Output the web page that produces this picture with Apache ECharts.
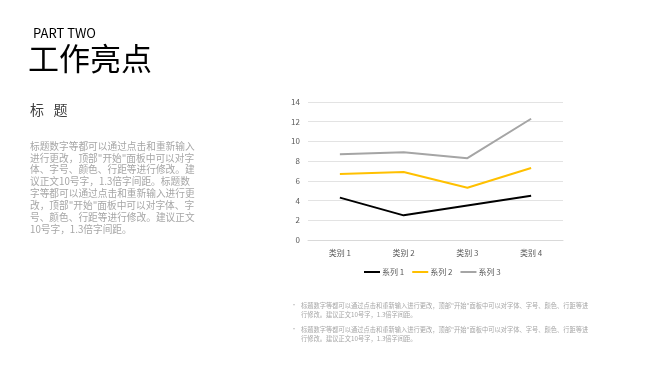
<!DOCTYPE html>
<html>
<head>
<meta charset="utf-8">
<script src="https://cdn.jsdelivr.net/npm/echarts@6/dist/echarts.min.js"></script>
<style>
html,body{margin:0;padding:0;background:#fff;}
#c{width:668px;height:376px;}
</style>
</head>
<body>
<div id="c"></div>
<script>
var categories = ['类别 1', '类别 2', '类别 3', '类别 4'];
var seriesNames = ['系列 1', '系列 2', '系列 3'];
var series1 = [4.3, 2.5, 3.5, 4.5];
var series2 = [2.4, 4.4, 1.8, 2.8];
var series3 = [2, 2, 3, 5];
var yTicks = [0, 2, 4, 6, 8, 10, 12, 14];
var colors = ['#000000', '#FFC000', '#A5A5A5'];

var heading = 'PART TWO';
var title = '工作亮点';
var subTitle = '标   题';
var paraLines = [
  '标题数字等都可以通过点击和重新输入',
  '进行更改，顶部"开始"面板中可以对字',
  '体、字号、颜色、行距等进行修改。建',
  '议正文10号字，1.3倍字间距。标题数',
  '字等都可以通过点击和重新输入进行更',
  '改，顶部"开始"面板中可以对字体、字',
  '号、颜色、行距等进行修改。建议正文',
  '10号字，1.3倍字间距。'
];
var noteLines = [
  '标题数字等都可以通过点击和重新输入进行更改，顶部"开始"面板中可以对字体、字号、颜色、行距等进\n行修改。建议正文10号字，1.3倍字间距。',
  '标题数字等都可以通过点击和重新输入进行更改，顶部"开始"面板中可以对字体、字号、颜色、行距等进\n行修改。建议正文10号字，1.3倍字间距。'
];

var font = '"Noto Sans CJK SC", "Noto Sans", sans-serif';
var chart = echarts.init(document.getElementById('c'), null, {renderer: 'canvas'});

var graphics = [
  {type: 'text', left: 33, top: 27, style: {text: heading, font: '13px ' + font, fill: '#000'}},
  {type: 'text', left: 28, top: 43, style: {text: title, font: '31px ' + font, fill: '#000'}},
  {type: 'text', left: 30, top: 103, style: {text: subTitle, font: '14px ' + font, fill: '#404040'}},
  {type: 'text', left: 30, top: 140, style: {text: paraLines.join('\n'), font: '9.7px ' + font, fill: '#a6a6a6', lineHeight: 11.9}}
];
noteLines.forEach(function (t, i) {
  graphics.push({type: 'text', left: 291, top: 302 + i * 24, style: {text: '•', font: '6px ' + font, fill: '#a6a6a6'}});
  graphics.push({type: 'text', left: 301, top: 301 + i * 24, style: {text: t, font: '6.25px ' + font, fill: '#a6a6a6', lineHeight: 9}});
});

function mk(name, data, color) {
  return {
    name: name, type: 'line', stack: 'total', data: data,
    symbol: 'none', smooth: false,
    lineStyle: {color: color, width: 2},
    itemStyle: {color: color},
    emphasis: {disabled: true}
  };
}

chart.setOption({
  animation: false,
  textStyle: {fontFamily: font},
  graphic: graphics,
  legend: {
    data: seriesNames, left: 359, top: 263,
    icon: 'rect', itemWidth: 16, itemHeight: 2, itemGap: 8,
    textStyle: {fontSize: 8, color: '#595959', fontFamily: font, padding: [0, 0, 0, -3]}
  },
  grid: {left: 308, right: 105, top: 102, bottom: 136, containLabel: false},
  xAxis: {
    type: 'category', data: categories, boundaryGap: true,
    axisLine: {show: true, lineStyle: {color: '#d9d9d9'}},
    axisTick: {show: false},
    axisLabel: {fontSize: 8, color: '#595959', margin: 9, fontFamily: font}
  },
  yAxis: {
    type: 'value', min: yTicks[0], max: yTicks[yTicks.length - 1], interval: 2,
    axisLine: {show: false}, axisTick: {show: false},
    axisLabel: {fontSize: 8, color: '#595959', margin: 8, fontFamily: font},
    splitLine: {lineStyle: {color: '#e3e3e3', width: 1}}
  },
  series: [
    mk(seriesNames[0], series1, colors[0]),
    mk(seriesNames[1], series2, colors[1]),
    mk(seriesNames[2], series3, colors[2])
  ]
});
</script>
</body>
</html>
